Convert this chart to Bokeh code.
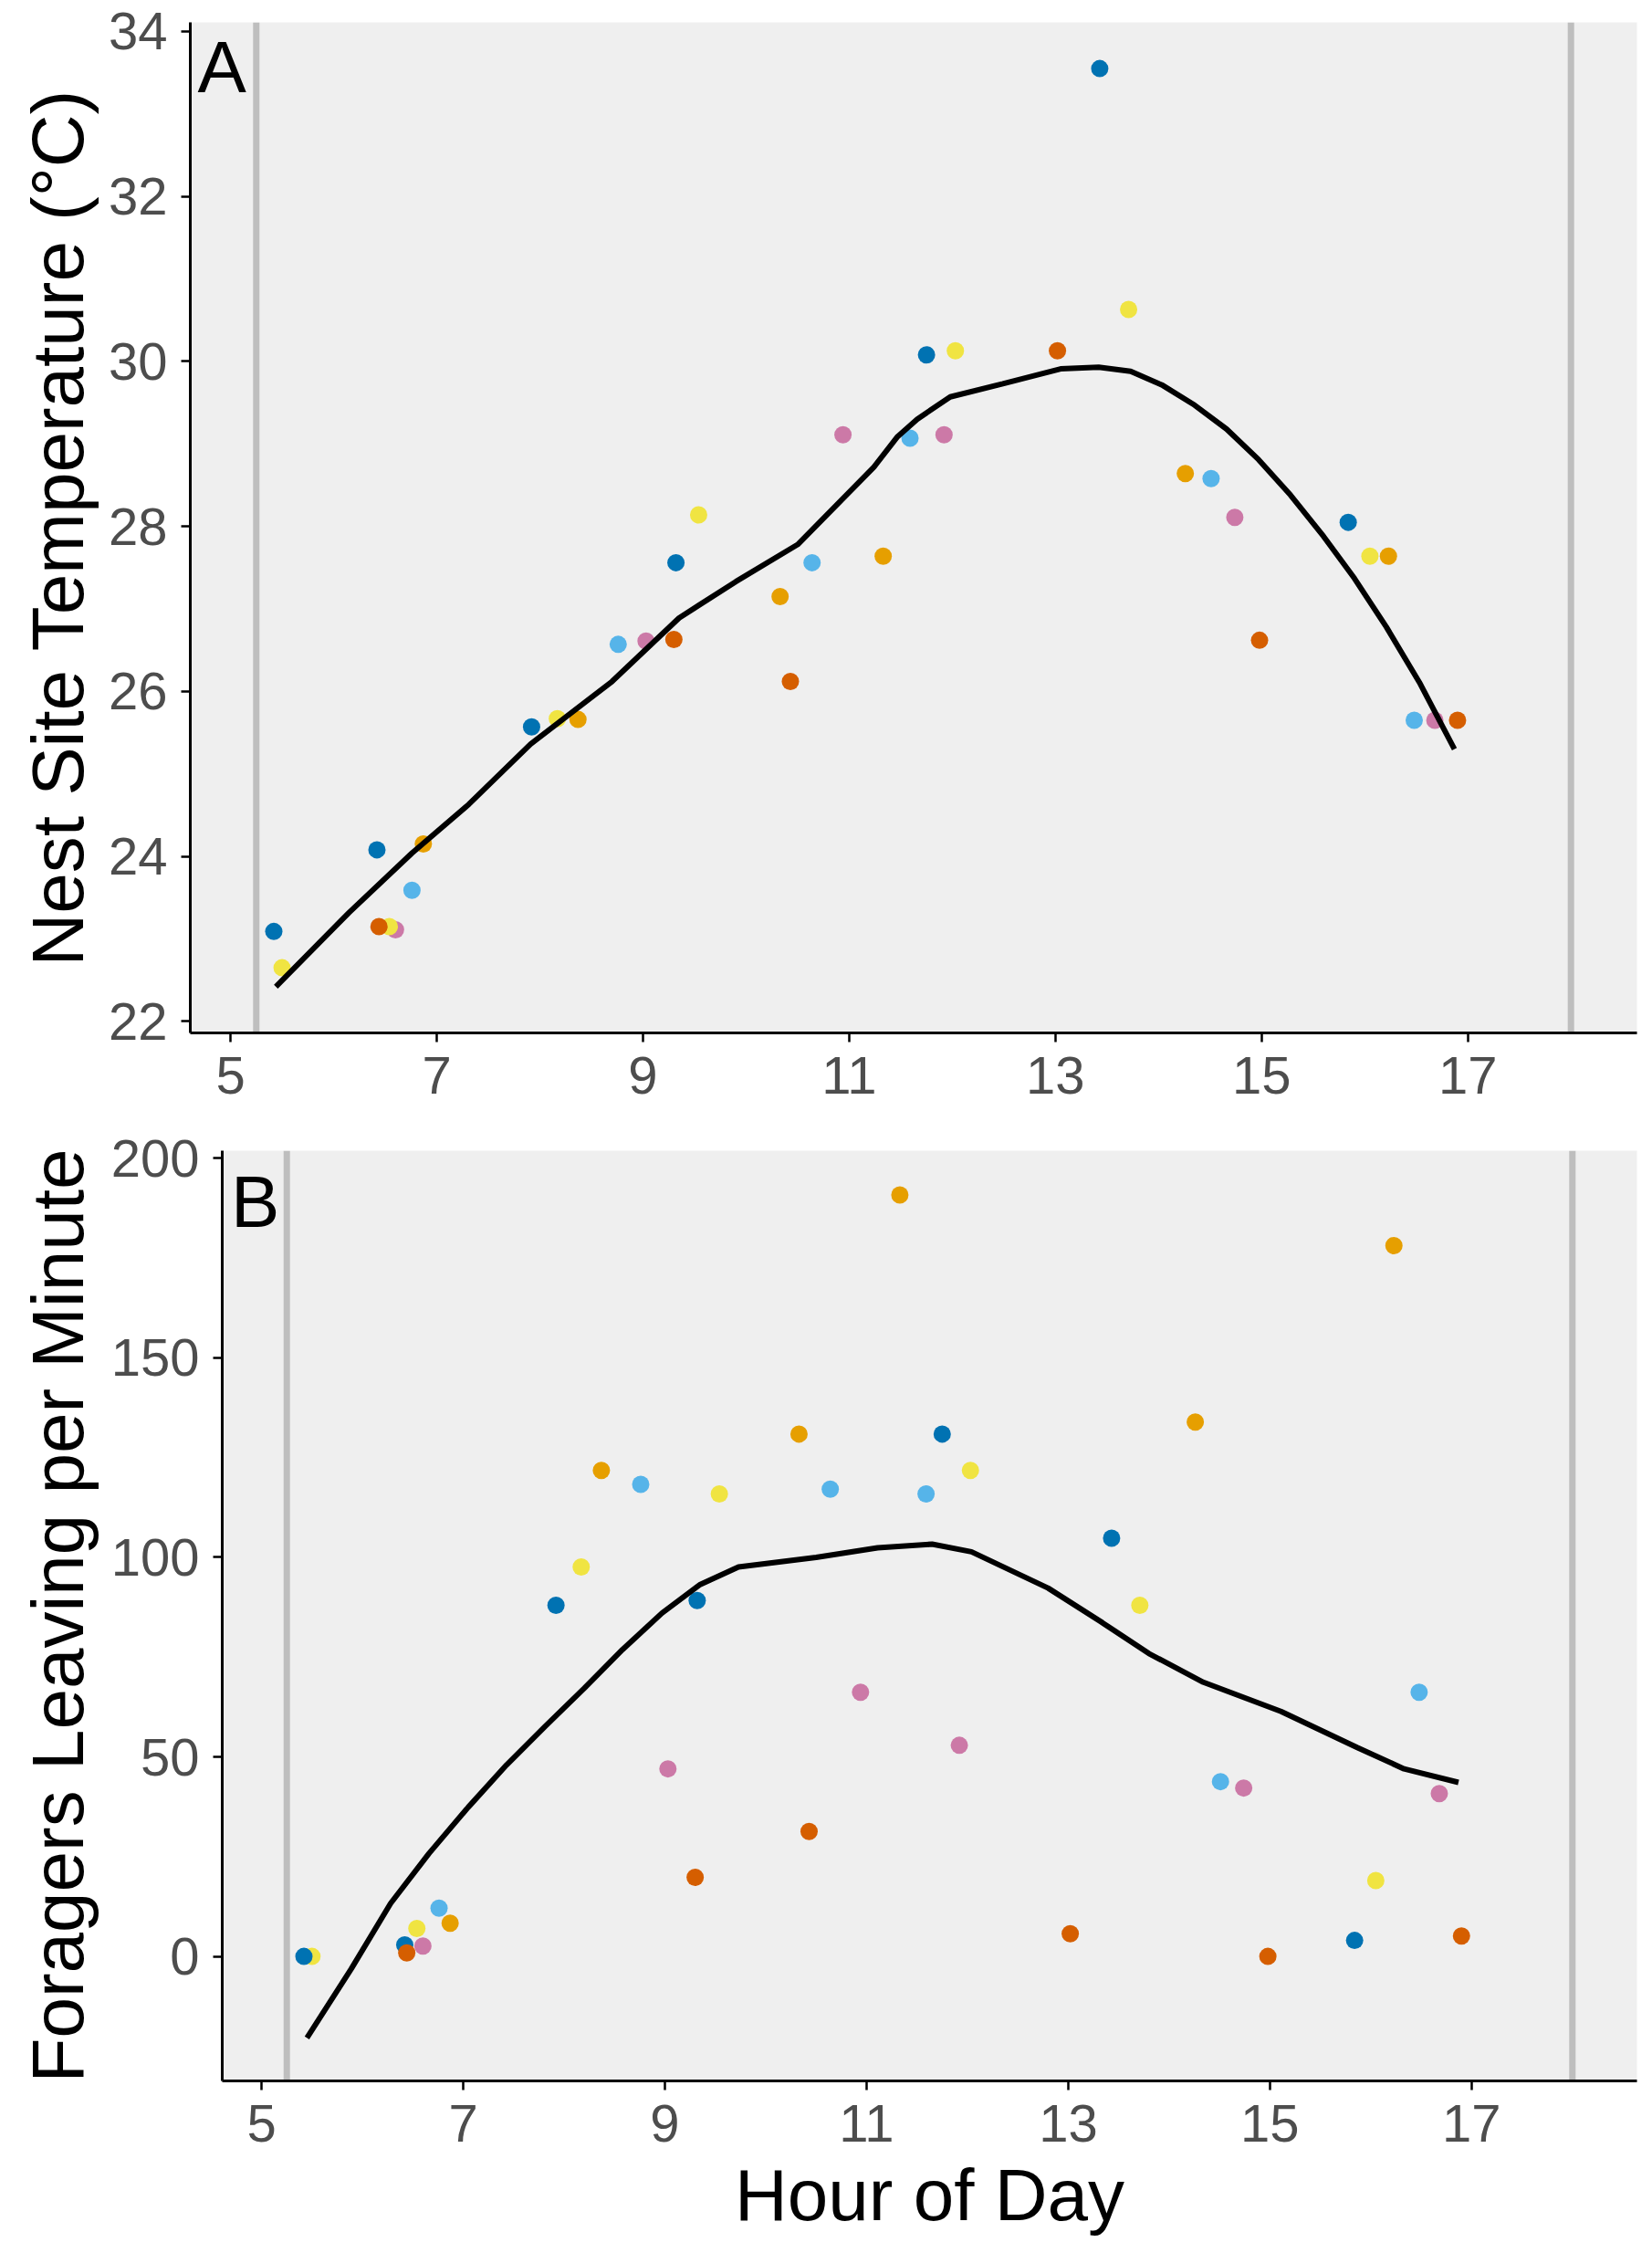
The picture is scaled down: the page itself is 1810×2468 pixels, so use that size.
from bokeh.plotting import figure
from bokeh.models import Span, Label, FixedTicker, Range1d
from bokeh.embed import file_html
from bokeh.resources import INLINE

# ---------------- data ----------------
colony_names = ["pink", "yellow", "darkblue", "skyblue", "orange", "vermillion"]
colony_colors = {"darkblue": "#0072B2", "yellow": "#F0E442", "vermillion": "#D55E00",
                 "pink": "#CC79A7", "skyblue": "#56B4E9", "orange": "#E69F00"}

hours = {
    "darkblue":   [5.42, 6.42, 7.92, 9.32, 11.75, 13.43, 15.84],
    "yellow":     [5.50, 6.54, 8.17, 9.54, 12.03, 13.71, 16.05],
    "vermillion": [6.44, 9.30, 10.43, 13.02, 14.98, 16.90],
    "pink":       [6.60, 9.03, 10.94, 11.92, 14.74, 16.68],
    "skyblue":    [6.76, 8.76, 10.64, 11.59, 14.51, 16.48],
    "orange":     [6.87, 8.37, 10.33, 11.33, 14.26, 16.23],
}
temperature = {
    "darkblue":   [23.09, 24.08, 25.57, 27.56, 30.08, 33.55, 28.05],
    "yellow":     [22.65, 23.15, 25.67, 28.14, 30.13, 30.63, 27.64],
    "vermillion": [23.15, 26.63, 26.12, 30.13, 26.62, 25.65],
    "pink":       [23.11, 26.61, 29.11, 29.11, 28.11, 25.65],
    "skyblue":    [23.59, 26.57, 27.56, 29.07, 28.58, 25.65],
    "orange":     [24.15, 25.66, 27.15, 27.64, 28.64, 27.64],
}
foragers = {
    "darkblue":   [0.0, 2.9, 88.0, 89.2, 130.9, 104.8, 4.0],
    "yellow":     [0.0, 7.0, 97.6, 115.9, 121.8, 88.0, 19.0],
    "vermillion": [0.9, 19.8, 31.3, 5.7, 0.0, 5.1],
    "pink":       [2.6, 47.0, 66.2, 52.9, 42.2, 40.8],
    "skyblue":    [12.1, 118.3, 117.1, 115.9, 43.8, 66.2],
    "orange":     [8.3, 121.8, 130.9, 190.8, 133.9, 178.1],
}

smooth_temp_hours = [5.44, 6.15, 6.76, 7.31, 7.91, 8.70, 9.35, 9.90, 10.50, 11.24, 11.47,
                     11.66, 11.98, 12.49, 13.05, 13.42, 13.73, 14.04, 14.35, 14.66, 14.97,
                     15.28, 15.60, 15.90, 16.21, 16.53, 16.87]
smooth_temp = [22.42, 23.32, 24.04, 24.63, 25.36, 26.12, 26.89, 27.33, 27.78, 28.72, 29.09,
               29.30, 29.57, 29.73, 29.91, 29.93, 29.88, 29.71, 29.47, 29.18, 28.81,
               28.38, 27.88, 27.37, 26.78, 26.11, 25.30]

smooth_for_hours = [5.45, 5.89, 6.28, 6.66, 7.05, 7.43, 7.81, 8.20, 8.58, 8.97, 9.35, 9.73,
                    10.50, 11.11, 11.65, 12.04, 12.80, 13.34, 13.80, 14.34, 15.11, 15.87,
                    16.33, 16.87]
smooth_for = [-20.4, -3.1, 13.3, 25.8, 37.4, 48.0, 57.6, 67.2, 76.9, 86.0, 93.2, 97.6,
              100.0, 102.4, 103.3, 101.4, 92.3, 83.6, 75.9, 68.7, 61.4, 52.3, 47.0, 43.6]

vline_hours = [5.25, 18.0]
x_ticks = [5, 7, 9, 11, 13, 15, 17]
temp_ticks = [22, 24, 26, 28, 30, 32, 34]
for_ticks = [0, 50, 100, 150, 200]

FONT = "Liberation Sans"


def style(p, yticks):
    p.background_fill_color = "#EFEFEF"
    p.border_fill_color = "white"
    p.outline_line_color = None
    p.xgrid.visible = False
    p.ygrid.visible = False
    p.xaxis.ticker = FixedTicker(ticks=x_ticks)
    p.yaxis.ticker = FixedTicker(ticks=yticks)
    for ax in (p.xaxis[0], p.yaxis[0]):
        ax.axis_line_color = "black"
        ax.axis_line_width = 3
        ax.major_tick_line_color = "black"
        ax.major_tick_line_width = 2.5
        ax.major_tick_out = 10
        ax.major_tick_in = 0
        ax.minor_tick_line_color = None
        ax.major_label_text_font = FONT
        ax.major_label_text_font_size = "58px"
        ax.major_label_text_color = "#4D4D4D"
        ax.axis_label_text_font = FONT
        ax.axis_label_text_font_size = "80px"
        ax.axis_label_text_font_style = "normal"
        ax.axis_label_text_color = "black"
    p.xaxis.major_label_standoff = 16
    p.yaxis.major_label_standoff = 15
    for h in vline_hours:
        p.add_layout(Span(location=h, dimension="height", line_color="#BEBEBE",
                          line_width=7, level="underlay"))


def draw_points(p, values):
    for c in colony_names:
        p.scatter(hours[c], values[c], size=19, color=colony_colors[c], line_color=None)


# ---------------- panel A ----------------
pA = figure(frame_width=1585, frame_height=1107, output_backend="svg", toolbar_location=None,
            x_range=Range1d(4.61, 18.64), y_range=Range1d(21.86, 34.11),
            min_border_left=208, min_border_right=10, min_border_top=24, min_border_bottom=90)
style(pA, temp_ticks)
pA.yaxis.axis_label = "Nest Site Temperature (°C)"
pA.yaxis.axis_label_standoff = 8
draw_points(pA, temperature)
pA.line(smooth_temp_hours, smooth_temp, line_color="black", line_width=6)
pA.add_layout(Label(x=4.68, y=33.565, text="A", text_font=FONT, text_font_size="80px",
                    text_color="black", text_baseline="alphabetic"))

# ---------------- panel B ----------------
pB = figure(frame_width=1550, frame_height=1019, output_backend="svg", toolbar_location=None,
            x_range=Range1d(4.61, 18.64), y_range=Range1d(-31.2, 201.9),
            min_border_left=243, min_border_right=10, min_border_top=39, min_border_bottom=180)
style(pB, for_ticks)
pB.yaxis.axis_label = "Foragers Leaving per Minute"
pB.yaxis.axis_label_standoff = 11
pB.xaxis.axis_label = "Hour of Day"
pB.xaxis.axis_label_standoff = 11
draw_points(pB, foragers)
pB.line(smooth_for_hours, smooth_for, line_color="black", line_width=6)
pB.add_layout(Label(x=4.695, y=189.2, text="B", text_font=FONT, text_font_size="80px",
                    text_color="black", text_baseline="alphabetic"))

# two independent roots stacked on the page (no frame alignment between them)
open("out.html", "w").write(file_html([pA, pB], INLINE))
